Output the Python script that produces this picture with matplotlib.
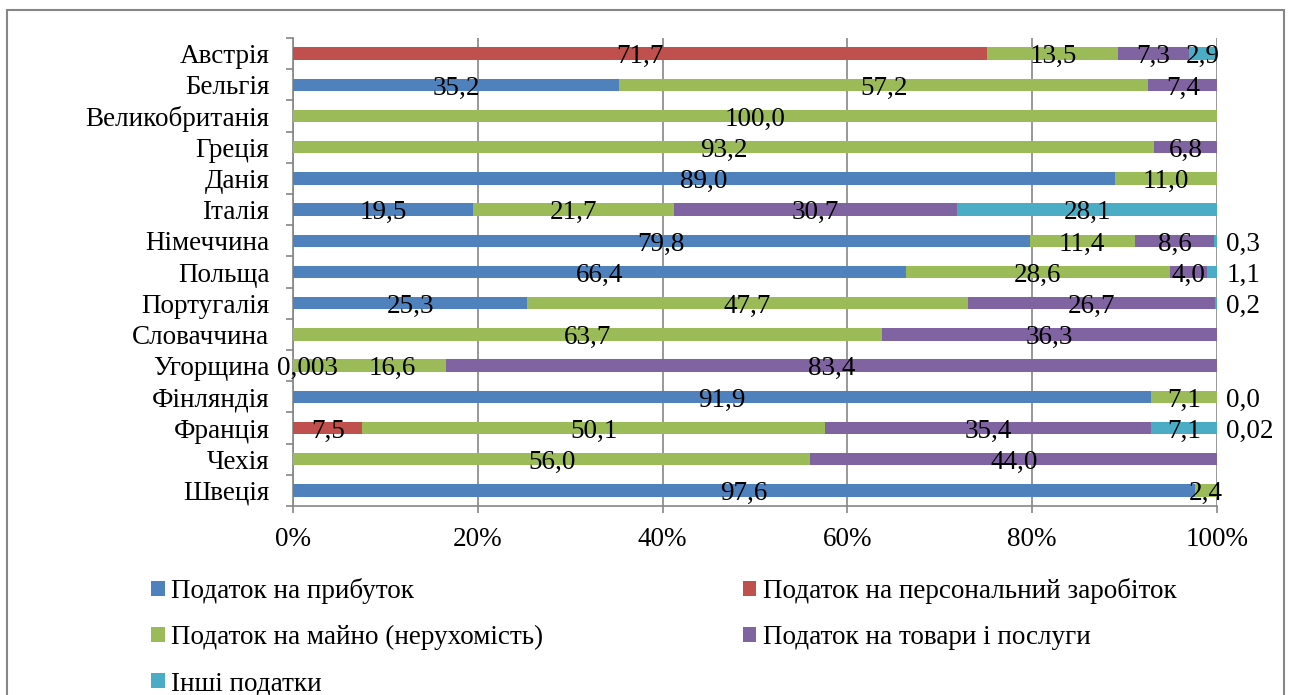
import numpy as np
import matplotlib.pyplot as plt
from matplotlib.patches import Rectangle

plt.rcParams['font.family'] = ['Liberation Serif', 'DejaVu Serif']

countries = ['Австрія', 'Бельгія', 'Великобританія', 'Греція', 'Данія', 'Італія',
             'Німеччина', 'Польща', 'Португалія', 'Словаччина', 'Угорщина',
             'Фінляндія', 'Франція', 'Чехія', 'Швеція']
series = ['Податок на прибуток', 'Податок на персональний заробіток',
          'Податок на майно (нерухомість)', 'Податок на товари і послуги',
          'Інші податки']
colors = ['#4F81BD', '#C0504D', '#9BBB59', '#8064A2', '#4BACC6']

profit = [0, 35.2, 0, 0, 89.0, 19.5, 79.8, 66.4, 25.3, 0, 0.003, 91.9, 0.02, 0, 97.6]
personal = [71.7, 0, 0, 0, 0, 0, 0, 0, 0, 0, 0, 0, 7.5, 0, 0]
property_tax = [13.5, 57.2, 100.0, 93.2, 11.0, 21.7, 11.4, 28.6, 47.7, 63.7, 16.6, 7.1, 50.1, 56.0, 2.4]
goods = [7.3, 7.4, 0, 6.8, 0, 30.7, 8.6, 4.0, 26.7, 36.3, 83.4, 0, 35.4, 44.0, 0]
other = [2.9, 0, 0, 0, 0, 28.1, 0.3, 1.1, 0.2, 0, 0, 0.0, 7.1, 0, 0]

# tiny shares: label goes to the right of the bar (row, series)
outside = {(6, 4), (7, 4), (8, 4), (11, 4), (12, 0)}
# labels moved by hand to avoid overlap (row, series) -> x, %
moved = {(10, 0): 1.6, (10, 2): 10.7}


def fmt(v):
    s = f'{v:.1f}' if (v >= 0.1 or v == 0) else f'{v:g}'
    return s.replace('.', ',')


data = np.array([profit, personal, property_tax, goods, other])
shares = data / data.sum(axis=0) * 100
y = np.arange(len(countries))

fig = plt.figure(figsize=(12.93, 6.95), dpi=100)
ax = fig.add_axes([293 / 1293, 1 - 506 / 695, 924 / 1293, 468 / 695])

grey = '#868686'
fs = 19.5
handles = []
left = np.zeros(len(countries))
for k in range(len(series)):
    bars = ax.barh(y, shares[k], left=left, height=0.4, color=colors[k],
                   label=series[k], zorder=3)
    handles.append(bars)
    for j in range(len(countries)):
        if (j, k) in outside:
            ax.text(101.0, y[j] + 0.1, fmt(data[k, j]), ha='left', va='center',
                    fontsize=fs, zorder=4, clip_on=False)
        elif data[k, j] > 0:
            x = moved.get((j, k), left[j] + shares[k, j] / 2)
            ax.text(x, y[j] + 0.1, fmt(data[k, j]), ha='center', va='center',
                    fontsize=fs, zorder=4)
    left += shares[k]

ax.set_xlim(0, 100)
ax.set_ylim(14.5, -0.5)
ax.set_xticks(np.arange(0, 101, 20))
ax.set_xticklabels([f'{v}%' for v in range(0, 101, 20)], fontsize=fs)
ax.set_yticks(y)
ax.set_yticklabels(countries, fontsize=fs)
ax.set_yticks(np.arange(-0.5, 15, 1), minor=True)
ax.tick_params(axis='y', which='major', length=0, pad=17)
ax.tick_params(axis='y', which='minor', length=5, width=1.2, color=grey)
ax.tick_params(axis='x', length=5, width=1.2, color=grey, pad=10)
ax.xaxis.grid(True, color=grey, lw=1.2, zorder=0)
ax.set_axisbelow(True)
for s in ['top', 'right']:
    ax.spines[s].set_visible(False)
for s in ['left', 'bottom']:
    ax.spines[s].set_color(grey)
    ax.spines[s].set_linewidth(1.2)

order = [0, 2, 4, 1, 3]
fig.legend([handles[i] for i in order], [series[i] for i in order], ncol=2,
           loc='upper left', bbox_to_anchor=(151 / 1293, 1 - 578 / 695),
           frameon=False, fontsize=fs, handlelength=0.5, handleheight=0.5,
           handletextpad=0.25, columnspacing=7.35, labelspacing=0.78,
           borderpad=0, borderaxespad=0)

fig.patches.append(Rectangle((7 / 1293, -0.1), 1277 / 1293, 1.1 - 10 / 695,
                             transform=fig.transFigure, fill=False,
                             edgecolor=grey, lw=1.5))

fig.savefig('out.png', dpi=100)
